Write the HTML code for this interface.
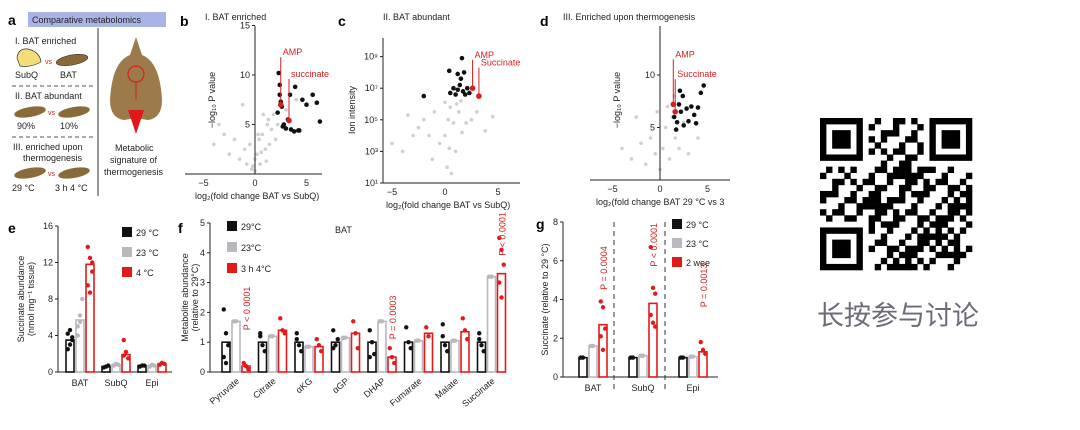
<!DOCTYPE html>
<html><head><meta charset="utf-8"><style>
html,body{margin:0;padding:0;background:#fff;width:1080px;height:430px;overflow:hidden}
svg{display:block;font-family:"Liberation Sans",Arial,sans-serif}
.t{font-size:9px;fill:#222}
.r{fill:#d42020}
</style></head><body>
<svg id="fig" width="1080" height="430" viewBox="0 0 1080 430">
<g>
 <text x="8" y="25" style="font-weight:bold;font-size:14px">a</text>
 <rect x="28" y="12" width="138" height="15" fill="#a9b4e6"/>
 <text x="32" y="23" class="t">Comparative metabolomics</text>
 <line x1="98" y1="28" x2="98" y2="196" stroke="#333"/>
 <text x="15" y="44" class="t">I. BAT enriched</text>
 <path d="M17 58 Q18 48 28 49 Q40 52 41 62 Q30 68 20 66 Z" fill="#f5dc7a" stroke="#333" stroke-width="0.7"/>
 <text x="45" y="64" font-size="7" class="r">vs</text>
 <ellipse cx="72" cy="60" rx="16" ry="5" fill="#8b6a3a" stroke="#333" stroke-width="0.6" transform="rotate(-10 72 60)"/>
 <text x="15" y="78" class="t">SubQ</text>
 <text x="60" y="78" class="t">BAT</text>
 <line x1="12" y1="86" x2="95" y2="86" stroke="#555" stroke-dasharray="4 3"/>
 <text x="15" y="99" class="t">II. BAT abundant</text>
 <ellipse cx="30" cy="112" rx="16" ry="5" fill="#8b6a3a" transform="rotate(-10 30 112)"/>
 <text x="48" y="115" font-size="7" class="r">vs</text>
 <ellipse cx="74" cy="112" rx="16" ry="5" fill="#8b6a3a" transform="rotate(-10 74 112)"/>
 <text x="17" y="129" class="t">90%</text>
 <text x="60" y="129" class="t">10%</text>
 <line x1="12" y1="137" x2="95" y2="137" stroke="#555" stroke-dasharray="4 3"/>
 <text x="13" y="150" class="t">III. enriched upon</text>
 <text x="23" y="161" class="t">thermogenesis</text>
 <ellipse cx="30" cy="173" rx="16" ry="5" fill="#8b6a3a" transform="rotate(-10 30 173)"/>
 <text x="48" y="176" font-size="7" class="r">vs</text>
 <ellipse cx="74" cy="173" rx="16" ry="5" fill="#8b6a3a" transform="rotate(-10 74 173)"/>
 <text x="12" y="191" class="t">29 °C</text>
 <text x="55" y="191" class="t">3 h 4 °C</text>
 <path d="M130 55 L136 37 L142 55 Q160 62 162 100 Q162 118 148 120 L136 118 L124 120 Q110 118 110 100 Q112 62 130 55 Z" fill="#9c7a4a"/>
 <circle cx="136" cy="74" r="8" fill="none" stroke="#d42020" stroke-width="1.2"/>
 <line x1="136" y1="82" x2="136" y2="100" stroke="#d42020"/>
 <polygon points="128,110 144,110 136,134" fill="#e01818"/>
 <text x="115" y="151" class="t">Metabolic</text>
 <text x="110" y="163" class="t">signature of</text>
 <text x="104" y="175" class="t">thermogenesis</text>
</g>
<g id="volc"></g>
<g id="bars"></g>
<g id="qr"></g>
<text x="898" y="325" text-anchor="middle" style="font-family:'Liberation Sans','Noto Sans CJK SC',sans-serif;font-size:27px;fill:#6e6a78">长按参与讨论</text>
</svg>
<script>
const NS='http://www.w3.org/2000/svg';
function mk(p,tag,a,txt){const e=document.createElementNS(NS,tag);for(const k in a)e.setAttribute(k,a[k]);if(txt!=null)e.textContent=txt;p.appendChild(e);return e;}
// ---- volcano data ----
const bGrayX=[-4,-3,-2.5,-2,-1.5,-1,-0.8,-0.5,-0.3,0,0,0.2,0.4,0.5,0.7,1,1.2,1.4,1.6,1.8,2,2.2,-1.2,0.8,1.3,0.3,-0.2,0.6,1.1,3,-3.5,4];
const bGrayY=[3,4,2,3.5,1.5,2.5,1,3,0.5,0.3,1.5,2,3.5,1,4,2.5,5,3,4.5,6,3.5,5,7,6,5.5,4,0.8,2.2,1.3,6.5,5,7.5];
const bBlackX=[2.3,2.4,2.5,2.6,2.2,2.8,3,3.2,3.5,3.8,4.2,4.6,5,5.6,6,6.3,2.7,3.4,2.4,3.9,4.3];
const bBlackY=[10.2,8,7.3,6.8,6.2,5,4.6,5.5,4.5,4.3,4.4,7.5,7,8,7.2,5.3,4.8,8,9,8.8,4.4];
const cGrayX=[-5,-4,-3,-2.5,-2,-1.5,-1,-0.5,0,0.3,0.5,0.8,1,1.3,1.6,2,2.5,3,-1.2,0.2,0.6,1.1,-3.5,3.8,4.5,0,0.4,1.5];
const cGrayY=[3.5,3,4,4.5,5,4,5.5,3.5,4,5,5.8,4.8,3,5.5,4.2,4.8,5,5.5,2.5,2,1.6,6,5.3,4.3,5.2,6.1,3.2,6.2];
const cBlackX=[-2,0.5,0.8,1,1.2,1.4,1.5,1.7,1.9,2.1,2.3,1.2,1.6,0.4,1.8];
const cBlackY=[6.5,6.7,7,6.6,6.9,7.2,7.6,6.8,6.6,7,6.7,7.9,8.9,8.1,8];
const dGrayX=[-4,-3,-2,-1.5,-1,-0.5,0,0.3,0.6,1,1.3,1.6,2,2.5,3,-2.5,0.8,1.5,4,-0.3];
const dGrayY=[3,2,3.5,1.5,4,2.5,1,3,5,2,6,4,3,5.5,2.5,6,7,8,4,6.5];
const dBlackX=[1.5,1.8,2,2.2,2.5,2.8,3,3.3,3.6,4,4.3,4.6,2.1,2.4,3.8,1.7];
const dBlackY=[6,5.5,7.2,6.5,5.2,6.8,5.6,7,6.2,6.9,8.3,9,8.5,8,5.4,4.8];
const volc=document.getElementById('volc');
function volcano(o){
 const g=mk(volc,'g',{});
 
 
 const sx=v=>o.x0+(v-o.xmin)*o.kx, sy=v=>o.y0-(v-o.ymin)*o.ky;
 const L=mk(g,'text',{x:o.lx,y:26,'font-size':14,'font-weight':'bold'},o.letter);
 
 const T=mk(g,'text',{x:o.tx,y:20,class:'t'},o.title);
 
 o.gx.forEach((v,i)=>{const c=mk(g,'circle',{cx:sx(v),cy:sy(o.gy[i]),r:1.8,fill:'#cfcfcf'});});
 o.bx.forEach((v,i)=>{const c=mk(g,'circle',{cx:sx(v),cy:sy(o.by[i]),r:2.3,fill:'#111'});});
 const ya=mk(g,'line',{x1:sx(0)-o.yaxOff,y1:o.ytop,x2:sx(0)-o.yaxOff,y2:o.y0,stroke:'#222'});
 const xa=mk(g,'line',{x1:o.xl,y1:o.y0,x2:o.xr,y2:o.y0,stroke:'#222'});
 [-5,0,5].forEach(v=>{const t=mk(g,'text',{x:sx(v),y:o.y0+12,'text-anchor':'middle',class:'t'},v<0?'−5':String(v));});
 o.yt.forEach((v,i)=>{const x=sx(0)-o.yaxOff;mk(g,'line',{x1:x-3,y1:sy(v),x2:x,y2:sy(v),stroke:'#222'});const t=mk(g,'text',{x:x-5,y:sy(v)+3,'text-anchor':'end',class:'t'},o.ytl[i]);});
 const xt=mk(g,'text',{x:o.xtx,y:o.y0+25,class:'t','font-size':8},o.xtitle);
 const yt=mk(g,'text',{x:0,y:0,class:'t',transform:`translate(${o.ytx},${o.yty}) rotate(-90)`,'text-anchor':'middle'},o.ytitle);
 o.red.forEach(r=>{const x=sx(r[0]),y=sy(r[1]);mk(g,'line',{x1:x,y1:y,x2:x,y2:sy(r[3]),stroke:'#d42020'});const c=mk(g,'circle',{cx:x,cy:y,r:2.8,fill:'#d42020'});const t=mk(g,'text',{x:x+2,y:sy(r[3])-2,class:'t r','font-size':9},r[2]);});
}
volcano({name:'panel-b-volcano',letter:'b',lx:180,tx:205,title:'I. BAT enriched',x0:255,xmin:0,kx:10.3,y0:174,ymin:0,ky:9.9,ytop:26,yaxOff:0,xl:185,xr:322,
 gx:bGrayX,gy:bGrayY,bx:bBlackX,by:bBlackY,yt:[5,10,15],ytl:['5','10','15'],xtx:195,xtitle:'log₂(fold change BAT vs SubQ)',ytx:215,yty:100,ytitle:'−log₁₀ P value',
 red:[[2.5,7,'AMP',11.8],[3.3,5.4,'succinate',9.6]]});
volcano({name:'panel-c-volcano',letter:'c',lx:338,tx:383,title:'II. BAT abundant',x0:445,xmin:0,kx:10.6,y0:183,ymin:1,ky:15.8,ytop:38,yaxOff:62,xl:383,xr:520,
 gx:cGrayX,gy:cGrayY,bx:cBlackX,by:cBlackY,yt:[1,3,5,7,9],ytl:['10¹','10³','10⁵','10⁷','10⁹'],xtx:386,xtitle:'log₂(fold change BAT vs SubQ)',ytx:355,yty:110,ytitle:'Ion intensity',
 red:[[2.6,7,'AMP',8.8],[3.2,6.5,'Succinate',8.3]]});
volcano({name:'panel-d-volcano',letter:'d',lx:540,tx:563,title:'III. Enriched upon thermogenesis',x0:660,xmin:0,kx:9.5,y0:180,ymin:0,ky:10.5,ytop:26,yaxOff:0,xl:590,xr:730,
 gx:dGrayX,gy:dGrayY,bx:dBlackX,by:dBlackY,yt:[5,10],ytl:['5','10'],xtx:596,xtitle:'log₂(fold change BAT 29 °C vs 3',ytx:620,yty:100,ytitle:'−log₁₀ P value',
 red:[[1.4,7.2,'AMP',11.5],[1.6,6.5,'Succinate',9.6]]});
// ---- bar data ----
const eCats=['BAT','SubQ','Epi'];
const e29=[3.5,0.6,0.7], e23=[5.7,0.8,0.7], e4=[11.8,1.9,0.9];
const e29d=[[2.5,3,3.5,4.2,4.6,3.8],[0.5,0.6,0.7],[0.6,0.7,0.7]], e23d=[[4,6.2,8,5,5.5],[0.7,0.9,0.8],[0.6,0.8,0.7]], e4d=[[13.7,12.5,11,9.5,8.7,12],[3.5,2.2,1.5,1.8],[0.8,1,0.9]];
const fCats=['Pyruvate','Citrate','αKG','αGP','DHAP','Fumarate','Malate','Succinate'];
const f29=[1.0,1.0,1.0,1.0,1.0,1.0,1.0,1.0], f23=[1.7,1.2,0.85,1.15,1.7,1.05,1.05,3.2], fCold=[0.2,1.4,0.85,1.3,0.5,1.3,1.35,3.3];
const f29d=[[2.1,1.3,0.9,0.5,0.3],[1.2,0.9,0.7,1.3],[1.3,0.9,0.7,1.1],[1.4,0.9,1.1,0.8],[1.4,1,0.6,0.5],[1.5,1,0.8],[1.6,0.9,0.7,1.2],[1.3,0.9,0.7,1.1]];
const fColdd=[[0.3,0.2,0.1],[1.8,1.4,1.3],[1.1,0.9,0.7],[1.7,1.3,0.8],[0.8,0.5,0.3],[1.5,1.2],[1.8,1.4,1.1],[4.5,4.1,3.6,3,2.5]];
const fP=['P < 0.0001','','','','P = 0.0003','','','P < 0.0001'];
const gCats=['BAT','SubQ','Epi'];
const g29=[1.0,1.0,1.0], g23=[1.6,1.1,1.05], g2w=[2.7,3.8,1.3];
const g2wd=[[3.9,3.6,2.5,2.1,1.4],[6.7,4.6,4.3,3.2,2.8,2.6],[1.8,1.4,1.2]];
const gP=['P = 0.0004','P < 0.0001','P = 0.0013'];
const bars=document.getElementById('bars');
const COL=['#111','#b8b8be','#e21a1a'];
function barPanel(o){
 const g=mk(bars,'g',{});
 
 
 const sy=v=>o.y0-v/o.ymax*(o.y0-o.ytop);
 const L=mk(g,'text',{x:o.lx,y:o.ly,'font-size':14,'font-weight':'bold'},o.letter);
 const ya=mk(g,'line',{x1:o.ax,y1:o.ytop,x2:o.ax,y2:o.y0,stroke:'#222'});
 const xa=mk(g,'line',{x1:o.ax,y1:o.y0,x2:o.xr,y2:o.y0,stroke:'#222'});
 o.ticks.forEach(v=>{mk(g,'line',{x1:o.ax-3,y1:sy(v),x2:o.ax,y2:sy(v),stroke:'#222'});const t=mk(g,'text',{x:o.ax-5,y:sy(v)+3,'text-anchor':'end',class:'t'},String(v));});
 const yt=mk(g,'text',{x:0,y:0,class:'t','font-size':8,transform:`translate(${o.ytx},${(o.ytop+o.y0)/2}) rotate(-90)`,'text-anchor':'middle'},o.ytitle);
 if(o.ytitle2){const y2=mk(g,'text',{x:0,y:0,class:'t','font-size':8,transform:`translate(${o.ytx+10},${(o.ytop+o.y0)/2}) rotate(-90)`,'text-anchor':'middle'},o.ytitle2);}
 o.cats.forEach((c,i)=>{
  const cx=o.x0+i*o.gap;
  [o.s[0],o.s[1],o.s[2]].forEach((s,j)=>{
   const x=cx+(j-1)*o.bw*1.25-o.bw/2, v=s[i];
   const r=mk(g,'rect',{x:x,y:sy(v),width:o.bw,height:o.y0-sy(v),fill:'#fff',stroke:COL[j],'stroke-width':1.6});
   
   const d=o.d[j]?o.d[j][i]:[v,v];
   d.forEach((dv,k)=>{const p=mk(g,'circle',{cx:x+o.bw/2+((k%3)-1)*o.bw*0.28,cy:sy(dv),r:2.2,fill:COL[j]});});
  });
  const t=mk(g,'text',o.rot?{x:0,y:0,class:'t','text-anchor':'end',transform:`translate(${cx+4},${o.y0+10}) rotate(-40)`}:{x:cx,y:o.y0+14,class:'t','text-anchor':'middle'},c);
  
  if(o.p&&o.p[i]){const px=cx+o.bw*1.25+4;const pt=mk(g,'text',{x:0,y:0,class:'t r','font-size':8,transform:`translate(${px},${sy(o.pv[i])}) rotate(-90)`},o.p[i]);}
 });
 o.leg.forEach((l,j)=>{const r=mk(g,'rect',{x:o.legx,y:o.legy+j*o.legdy,width:10,height:10,fill:COL[j]});const t=mk(g,'text',{x:o.legx+14,y:o.legy+j*o.legdy+9,class:'t'},l);});
 return g;
}
barPanel({name:'panel-e-bars',letter:'e',lx:8,ly:233,ax:58,ytop:226,y0:372,ymax:16,xr:172,ticks:[0,4,8,12,16],ytx:24,ytitle:'Succinate abundance',ytitle2:'(nmol mg⁻¹ tissue)',
 cats:eCats,x0:80,gap:36,bw:8,s:[e29,e23,e4],d:[e29d,e23d,e4d],leg:['29 °C','23 °C','4 °C'],legx:122,legy:227,legdy:20});
barPanel({name:'panel-f-bars',letter:'f',lx:178,ly:233,ax:210,ytop:223,y0:372,ymax:5,xr:505,ticks:[0,1,2,3,4,5],ytx:188,ytitle:'Metabolite abundance',ytitle2:'(relative to 29°C)',
 cats:fCats,x0:236,gap:36.5,bw:8,s:[f29,f23,fCold],d:[f29d,null,fColdd],p:fP,pv:[1.4,0,0,0,1.1,0,0,3.9],rot:true,leg:['29°C','23°C','3 h 4°C'],legx:227,legy:221,legdy:21});
const gg=barPanel({name:'panel-g-bars',letter:'g',lx:536,ly:229,ax:563,ytop:222,y0:377,ymax:8,xr:718,ticks:[0,2,4,6,8],ytx:548,ytitle:'Succinate (relative to 29 °C)',
 cats:gCats,x0:593,gap:50,bw:8,s:[g29,g23,g2w],d:[null,null,g2wd],p:gP,pv:[4.5,5.7,3.6],leg:['29 °C','23 °C','2 wee'],legx:672,legy:219,legdy:19});
[614,665].forEach(x=>{const l=mk(gg,'line',{x1:x,y1:222,x2:x,y2:390,stroke:'#333','stroke-dasharray':'5 4'});});
mk(bars,'text',{x:335,y:233,class:'t'},'BAT');
// ---- QR ----
const qr=document.getElementById('qr');const N=25,M=6.08,QX=820,QY=118;
function finder(r,c){return r<7&&c<7||r<7&&c>=N-7||r>=N-7&&c<7;}
for(let r=0;r<N;r++)for(let c=0;c<N;c++){
 let on;
 if(finder(r,c)){const rr=r<7?r:r-(N-7),cc=c<7?c:c-(N-7);on=(rr==0||rr==6||cc==0||cc==6)||(rr>=2&&rr<=4&&cc>=2&&cc<=4);}
 else if((r<8&&(c<8||c>=N-8))||(r>=N-8&&c<8))on=false;
 else on=((r*7+c*13+(r*c)%5)%3)==0||((r^c)%4==1);
 if(on){const q=mk(qr,'rect',{x:QX+c*M,y:QY+r*M,width:M+0.3,height:M+0.3,fill:'#000'});}
}
</script>
</body></html>
